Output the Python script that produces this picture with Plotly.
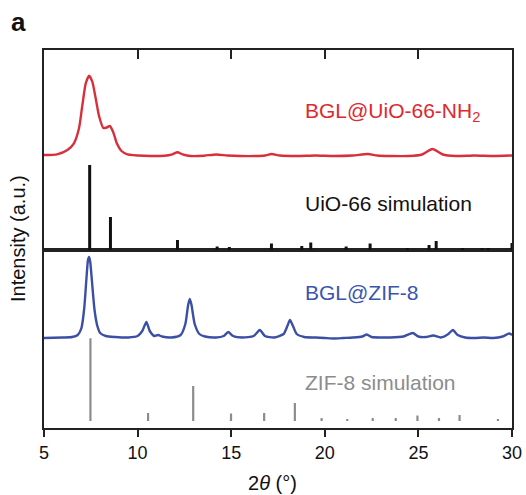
import plotly.graph_objects as go

# ---------------- data (arbitrary intensity units) ----------------
red_x = [5.0, 5.7, 6.25, 6.6, 6.87, 7.05, 7.23, 7.41, 7.58, 7.76, 7.94, 8.17, 8.35, 8.51,
         8.69, 8.89, 9.14, 9.46, 10.35, 11.42, 11.86, 12.13, 12.4, 12.84, 13.56, 14.2, 14.8,
         15.5, 16.3, 16.8, 17.16, 17.6, 18.5, 19.5, 20.5, 21.5, 22.3, 22.8, 23.5, 24.5, 25.2,
         25.75, 26.3, 27.0, 28.0, 29.0, 30.0]
red_y = [1.0, 1.7, 6.0, 12.7, 27.7, 51.0, 72.7, 80.3, 74.3, 57.7, 40.0, 28.0, 28.5, 30.0,
         24.3, 12.7, 5.0, 1.7, 0.3, 0.3, 1.7, 3.7, 1.7, 0.0, 0.3, 1.5, 0.5,
         0.0, 0.0, 0.5, 2.0, 0.5, 0.0, 0.5, 0.0, 0.5, 2.0, 0.5, 0.0, 0.0, 1.5,
         7.0, 1.5, 0.0, 0.5, 0.0, 0.5]

blue_x = [5.0, 6.0, 6.5, 6.8, 7.0, 7.15, 7.25, 7.35, 7.41, 7.47, 7.57, 7.7, 7.85, 8.0, 8.3,
          8.8, 9.5, 10.0, 10.25, 10.47, 10.65, 10.9, 11.1, 11.3, 11.8, 12.3, 12.55, 12.7,
          12.79, 12.88, 13.05, 13.3, 13.6, 14.2, 14.6, 14.84, 15.1, 15.6, 16.2, 16.53, 16.8,
          17.3, 17.8, 18.0, 18.14, 18.3, 18.5, 18.9, 19.5, 20.0, 20.5, 21.0, 21.5, 22.0,
          22.24, 22.5, 23.0, 23.5, 24.2, 24.7, 25.0, 25.4, 25.8, 26.2, 26.6, 26.84, 27.1,
          27.5, 28.0, 28.5, 29.0, 29.5, 29.85, 30.0]
blue_y = [0.0, 0.5, 1.0, 3.0, 10.0, 30.0, 55.0, 78.0, 81.0, 76.0, 55.0, 28.0, 12.0, 5.0, 2.0,
          1.0, 0.5, 2.0, 7.0, 16.0, 7.0, 2.0, 3.0, 1.5, 0.5, 3.0, 14.0, 33.0,
          39.0, 33.0, 14.0, 4.0, 1.5, 0.5, 2.0, 6.0, 2.0, 0.5, 2.0, 8.0, 2.0,
          0.5, 4.0, 12.0, 18.0, 12.0, 4.0, 1.0, 0.5, 0.0, -0.5, 0.0, 0.5, 1.5,
          3.5, 1.0, 0.5, 0.5, 1.5, 5.0, 1.5, 1.0, 2.5, 0.5, 4.0, 8.0, 3.0,
          0.5, 0.0, 0.5, 0.0, 1.5, 4.5, 3.0]

uio_pos = [7.44, 8.55, 12.13, 14.25, 14.9, 17.15, 18.77, 19.25, 21.14, 22.42, 24.41,
           25.57, 25.95, 27.36, 28.4, 28.73, 30.0]
uio_int = [85, 33, 10, 3.5, 3, 6.5, 4, 7.5, 3.5, 6.5, 2, 5, 9, 2, 2, 2, 7]

zif_pos = [7.48, 10.56, 12.97, 14.99, 16.76, 18.4, 19.83, 21.2, 22.56, 23.79, 24.95,
           26.1, 27.2, 29.25]
zif_int = [82.7, 8, 35, 7.5, 8, 18, 3, 2, 3, 3, 5.5, 3, 6, 2]

x_ticks = [5, 10, 15, 20, 25, 30]
labels = ["BGL@UiO-66-NH<sub>2</sub>", "UiO-66 simulation", "BGL@ZIF-8", "ZIF-8 simulation"]

# ---------------- layout constants ----------------
RED_OFFSET = 94      # top panel
BLUE_OFFSET = 90     # bottom panel
ZIF_BASE = 7
RED, BLUE, BLACK, GREY = "#d8303a", "#3b4fa6", "#111111", "#8c8c8c"
FRAME = "#222222"


def sticks(pos, ints, base):
    xs, ys = [], []
    for p, h in zip(pos, ints):
        xs += [p, p, None]
        ys += [base, base + h, None]
    return xs, ys


fig = go.Figure()

fig.add_trace(go.Scatter(x=red_x, y=[v + RED_OFFSET for v in red_y], mode="lines",
                         line=dict(color=RED, width=2.4, shape="spline", smoothing=0.6),
                         xaxis="x2", yaxis="y2", hoverinfo="skip"))
ux, uy = sticks(uio_pos, uio_int, 0)
fig.add_trace(go.Scatter(x=ux, y=uy, mode="lines", line=dict(color=BLACK, width=3),
                         xaxis="x2", yaxis="y2", hoverinfo="skip"))

fig.add_trace(go.Scatter(x=blue_x, y=[v + BLUE_OFFSET for v in blue_y], mode="lines",
                         line=dict(color=BLUE, width=2.4, shape="spline", smoothing=0.6),
                         xaxis="x", yaxis="y", hoverinfo="skip"))
zx, zy = sticks(zif_pos, zif_int, ZIF_BASE)
fig.add_trace(go.Scatter(x=zx, y=zy, mode="lines", line=dict(color=GREY, width=2.2),
                         xaxis="x", yaxis="y", hoverinfo="skip"))

split = 178 / 378
font_family = "Liberation Sans, Arial, Helvetica, sans-serif"

fig.update_layout(
    width=526, height=495,
    margin=dict(l=44, r=14, t=50, b=67, autoexpand=False),
    paper_bgcolor="white", plot_bgcolor="white",
    showlegend=False,
    font=dict(family=font_family, color="#111111"),
    xaxis=dict(domain=[0, 1], range=[5, 30], anchor="y", tickvals=x_ticks,
               ticks="outside", ticklen=7, tickwidth=2, tickcolor=FRAME,
               showline=True, linecolor=FRAME, linewidth=2, mirror=True, automargin=False,
               showgrid=False, zeroline=False, tickfont=dict(size=18, color="#111111")),
    yaxis=dict(domain=[0, split], range=[0, 178], anchor="x", showline=True,
               linecolor=FRAME, linewidth=2, mirror=True, showticklabels=False,
               ticks="", showgrid=False, zeroline=False, automargin=False),
    xaxis2=dict(domain=[0, 1], range=[5, 30], anchor="y2", side="top",
                tickvals=x_ticks, ticks="inside", ticklen=9, tickwidth=2, tickcolor=FRAME,
                showticklabels=False, showline=True, linecolor=FRAME, linewidth=2,
                mirror=True, showgrid=False, zeroline=False, automargin=False),
    yaxis2=dict(domain=[split, 1], range=[0, 200], anchor="x2", showline=True,
                linecolor=FRAME, linewidth=2, mirror=True, showticklabels=False,
                ticks="", showgrid=False, zeroline=False, automargin=False),
)

label_x = 18.83
fig.add_annotation(x=label_x, y=138, xref="x2", yref="y2", text=labels[0], showarrow=False,
                   xanchor="left", yanchor="middle", font=dict(size=21, color="#e0282e"))
fig.add_annotation(x=label_x, y=47, xref="x2", yref="y2", text=labels[1], showarrow=False,
                   xanchor="left", yanchor="middle", font=dict(size=21, color="#111111"))
fig.add_annotation(x=label_x, y=136, xref="x", yref="y", text=labels[2], showarrow=False,
                   xanchor="left", yanchor="middle", font=dict(size=21, color="#3a55b0"))
fig.add_annotation(x=label_x, y=46, xref="x", yref="y", text=labels[3], showarrow=False,
                   xanchor="left", yanchor="middle", font=dict(size=21, color=GREY))

fig.add_annotation(x=0.489, y=-(483 - 428) / 378, xref="paper", yref="paper",
                   text="2<i>θ</i> (°)", showarrow=False, xanchor="center", yanchor="middle",
                   font=dict(size=20, color="#111111"))
fig.add_annotation(x=-(44 - 18) / 468, y=0.5, xref="paper", yref="paper",
                   text="Intensity (a.u.)", textangle=-90, showarrow=False,
                   xanchor="center", yanchor="middle", font=dict(size=20, color="#111111"))
fig.add_annotation(x=-(44 - 18) / 468, y=1 + (50 - 22) / 378, xref="paper", yref="paper",
                   text="<b>a</b>", showarrow=False, xanchor="center", yanchor="middle",
                   font=dict(size=26, color="#111111"))

fig.write_html("out.html", config={"displayModeBar": False},
               post_script="document.body.style.margin='0';document.body.style.padding='0';")
